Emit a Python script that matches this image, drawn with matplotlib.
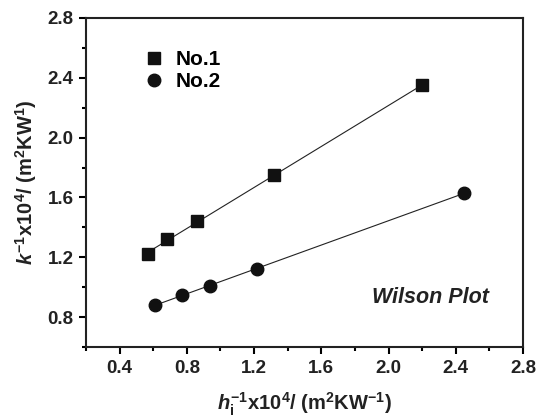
import numpy as np
import matplotlib.pyplot as plt
from matplotlib.ticker import MultipleLocator

plt.rcParams['font.family'] = ['Liberation Sans', 'DejaVu Sans']
plt.rcParams['mathtext.fontset'] = 'custom'
plt.rcParams['mathtext.rm'] = 'Liberation Sans:bold'
plt.rcParams['mathtext.it'] = 'Liberation Sans:bold:italic'
plt.rcParams['mathtext.bf'] = 'Liberation Sans:bold'

# No.1 series
x1 = [0.57, 0.68, 0.86, 1.32, 2.20]
y1 = [1.22, 1.32, 1.44, 1.75, 2.35]
# No.2 series
x2 = [0.61, 0.77, 0.94, 1.22, 2.45]
y2 = [0.88, 0.95, 1.01, 1.12, 1.63]

fig = plt.figure(figsize=(5.36, 4.19), dpi=100)
ax = fig.add_axes([86/536, 1 - 347/419, 437/536, 329/419])

for xs, ys, m, lab in [(x1, y1, 's', 'No.1'), (x2, y2, 'o', 'No.2')]:
    p = np.polyfit(xs, ys, 1)
    xf = np.array([xs[0], xs[-1]])
    ax.plot(xf, np.polyval(p, xf), color='#222222', lw=0.8, zorder=1)
    ax.plot(xs, ys, m, color='#111111', ms=8 if m == 's' else 9, label=lab, zorder=2)

ax.set_xlim(0.2, 2.8)
ax.set_ylim(0.6, 2.8)
ax.xaxis.set_minor_locator(MultipleLocator(0.2))
ax.yaxis.set_minor_locator(MultipleLocator(0.2))
ax.set_xticks([0.4, 0.8, 1.2, 1.6, 2.0, 2.4, 2.8])
ax.set_yticks([0.8, 1.2, 1.6, 2.0, 2.4, 2.8])
ax.tick_params(which='both', direction='out', width=1.5, top=False, right=False)
ax.tick_params(which='major', length=5, labelsize=13.5, pad=4)
ax.tick_params(which='minor', length=3)
for lbl in ax.get_xticklabels() + ax.get_yticklabels():
    lbl.set_fontweight('bold')
    lbl.set_color('#222222')
for s in ax.spines.values():
    s.set_linewidth(1.5)
    s.set_color('#222222')

ax.set_xlabel(r'$h_{\mathrm{i}}^{-1}$x10$^4$/ (m$^2$KW$^{-1}$)', fontsize=14.5,
              fontweight='bold', labelpad=10, color='#222222')
ax.set_ylabel(r'$k^{-1}$x10$^4$/ (m$^2$KW$^1$)', fontsize=14.5,
              fontweight='bold', labelpad=6, color='#222222')

ax.legend(loc='upper left', bbox_to_anchor=(0.09, 0.96), frameon=False,
          prop={'weight': 'bold', 'size': 15}, handletextpad=0.5, labelspacing=0.15,
          handlelength=1.0)

ax.text(1.9, 0.93, 'Wilson Plot', fontsize=15.5, fontweight='bold', style='italic',
        va='center', color='#222222')

fig.savefig('out.png', dpi=100)
